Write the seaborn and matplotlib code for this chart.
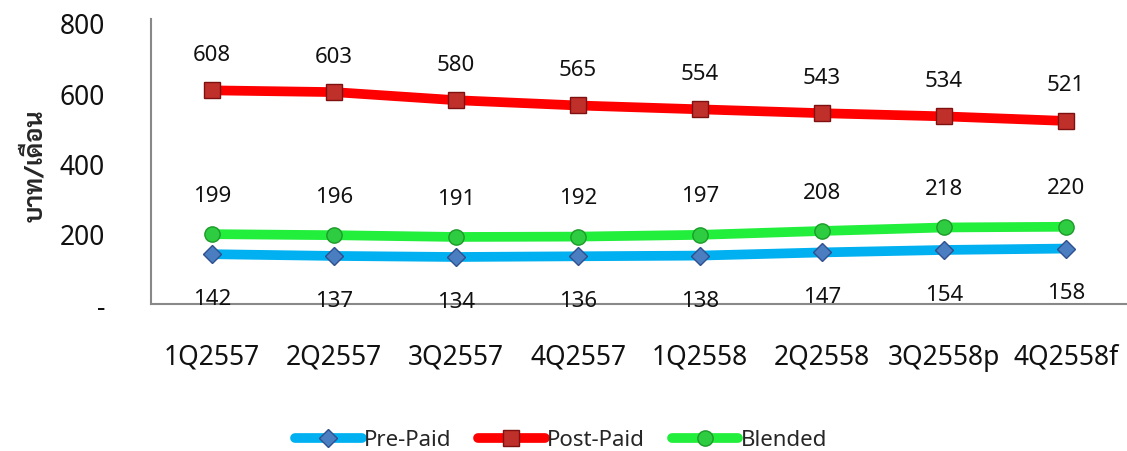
import numpy as np
import pandas as pd
import seaborn as sns
import matplotlib.pyplot as plt

quarters = ['1Q2557', '2Q2557', '3Q2557', '4Q2557', '1Q2558', '2Q2558', '3Q2558p', '4Q2558f']
pre_paid = [142, 137, 134, 136, 138, 147, 154, 158]
post_paid = [608, 603, 580, 565, 554, 543, 534, 521]
blended = [199, 196, 191, 192, 197, 208, 218, 220]
y_ticks = [0, 200, 400, 600, 800]
y_tick_labels = ['-', '200', '400', '600', '800']

sns.set_style('white')
plt.rcParams['font.family'] = ['Noto Sans', 'Sarabun', 'Noto Sans Thai', 'Bai Jamjuree', 'DejaVu Sans']
thai_fonts = ['Sarabun', 'Noto Sans Thai', 'Bai Jamjuree', 'Athiti']

df = pd.DataFrame({'quarter': quarters, 'Pre-Paid': pre_paid,
                   'Post-Paid': post_paid, 'Blended': blended})
df['x'] = np.arange(len(quarters))

fig = plt.figure(figsize=(11.27, 4.52), dpi=100)
ax = fig.add_axes([0.134, 0.325, 0.866, 0.63])

# name, line colour, marker, face, edge, label offset (points)
series = [
    ('Pre-Paid', '#00B0F0', 'D', '#4A7EC0', '#2F4F8F', -32),
    ('Post-Paid', '#FF0000', 's', '#C0302B', '#7F1010', 26),
    ('Blended', '#22EE3C', 'o', '#2ECC40', '#1E9A2A', 28),
]
for name, col, mk, face, edge, off in series:
    sns.lineplot(data=df, x='x', y=name, ax=ax, color=col, linewidth=7,
                 marker=mk, markersize=11 if mk != 'D' else 9,
                 markerfacecolor=face, markeredgecolor=edge, markeredgewidth=1,
                 label=name)
    for xi, v in zip(df['x'], df[name]):
        ax.annotate(str(v), (xi, v), xytext=(0, off), textcoords='offset points',
                    ha='center', va='center', fontsize=16, color='#111111')

ax.set_xlim(-0.5, 7.5)
ax.set_ylim(0, 810)
ax.set_xticks(df['x'])
ax.set_xticklabels(quarters, fontsize=19, color='#111111')
ax.set_yticks(y_ticks)
ax.set_yticklabels(y_tick_labels, fontsize=19, color='#111111')
ax.tick_params(axis='x', length=0, pad=28)
ax.tick_params(axis='y', length=0, pad=33)
ax.set_xlabel('')
ax.set_ylabel('บาท/เดือน', fontsize=18, fontweight='bold', family=thai_fonts)
ax.yaxis.set_label_coords(-0.105, 0.49)
for s in ['top', 'right']:
    ax.spines[s].set_visible(False)
for s in ['left', 'bottom']:
    ax.spines[s].set_color('#888888')
    ax.spines[s].set_linewidth(1.5)

ax.legend(loc='upper center', bbox_to_anchor=(0.42, -0.37), ncol=3, frameon=False,
          fontsize=16, handlelength=3.0, columnspacing=1.2, handletextpad=0.1)

fig.savefig('out.png', dpi=100)
